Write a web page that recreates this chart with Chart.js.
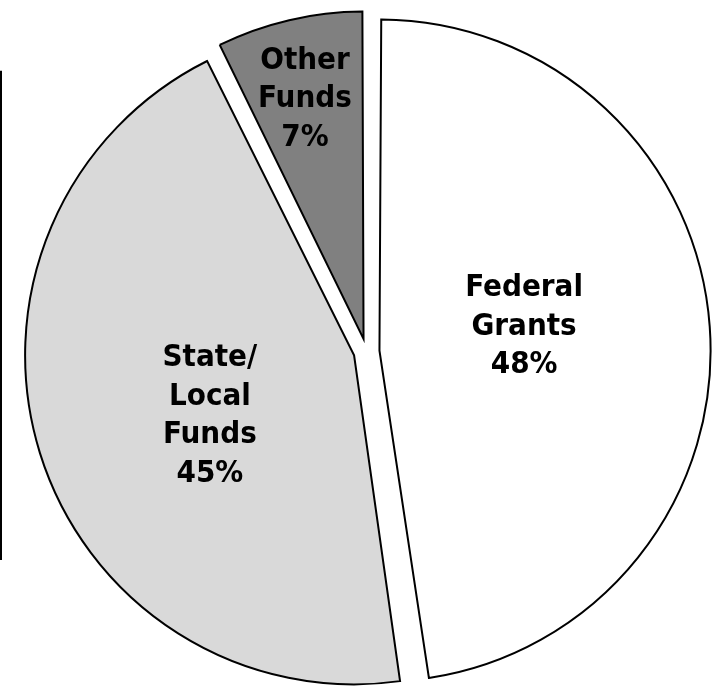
<!DOCTYPE html>
<html>
<head>
<meta charset="utf-8">
<script src="https://cdn.jsdelivr.net/npm/chart.js@4.4.1/dist/chart.umd.min.js"></script>
<style>
  html, body { margin: 0; padding: 0; background: #ffffff; }
  #wrap { position: relative; width: 713px; height: 687px; }
</style>
</head>
<body>
<div id="wrap"><canvas id="c"></canvas></div>
<script>
// ---- data ----
const categories = ["Federal Grants", "State/Local Funds", "Other Funds"];
const labelLines = [["Federal", "Grants"], ["State/", "Local", "Funds"], ["Other", "Funds"]];
const shares = [47.7, 45.0, 7.3];   // slice sizes (labels show rounded %)

// ---- styling ----
const sliceColors = ["#ffffff", "#d9d9d9", "#808080"];
const sliceOffsets = [52, 52, 52];
const labelRadius = [0.50, 0.526, 0.821];    // fraction of base radius
const labelAngleShift = [-5.8, -4.2, -0.4];  // degrees
const labelFont = "bold 31px 'DejaVu Sans Condensed', 'DejaVu Sans', sans-serif";
const lineHeight = 38.5;
const labelNudgeY = 3;

const labelPlugin = {
  id: 'sliceLabels',
  afterDatasetsDraw(chart) {
    const ctx = chart.ctx;
    const meta = chart.getDatasetMeta(0);
    ctx.save();
    // left frame line
    ctx.strokeStyle = '#000';
    ctx.lineWidth = 2;
    ctx.beginPath();
    ctx.moveTo(1, chart.height * 0.103);
    ctx.lineTo(1, chart.height * 0.815);
    ctx.stroke();

    ctx.font = labelFont;
    ctx.fillStyle = '#000';
    ctx.textAlign = 'center';
    ctx.textBaseline = 'middle';
    meta.data.forEach((arc, i) => {
      const p = arc.getProps(['x', 'y', 'startAngle', 'endAngle', 'outerRadius'], true);
      const mid = (p.startAngle + p.endAngle) / 2 + labelAngleShift[i] * Math.PI / 180;
      const r = p.outerRadius * labelRadius[i];
      const cx = p.x + Math.cos(mid) * r;
      const cy = p.y + Math.sin(mid) * r + labelNudgeY;
      const lines = labelLines[i].concat([Math.round(shares[i]) + '%']);
      const total = lines.length;
      lines.forEach((t, k) => {
        ctx.fillText(t, cx, cy + (k - (total - 1) / 2) * lineHeight);
      });
    });
    ctx.restore();
  }
};

new Chart(document.getElementById('c'), {
  type: 'pie',
  data: {
    labels: categories,
    datasets: [{
      data: shares,
      backgroundColor: sliceColors,
      borderColor: '#000000',
      borderWidth: 2,
      borderJoinStyle: 'miter',
      offset: sliceOffsets,
      hoverOffset: 0
    }]
  },
  options: {
    responsive: true,
    maintainAspectRatio: false,
    animation: false,
    radius: 320,
    layout: { padding: { left: 20, right: 0, top: 16, bottom: 0 } },
    plugins: {
      legend: { display: false },
      tooltip: { enabled: false }
    },
    events: []
  },
  plugins: [labelPlugin]
});
</script>
</body>
</html>
